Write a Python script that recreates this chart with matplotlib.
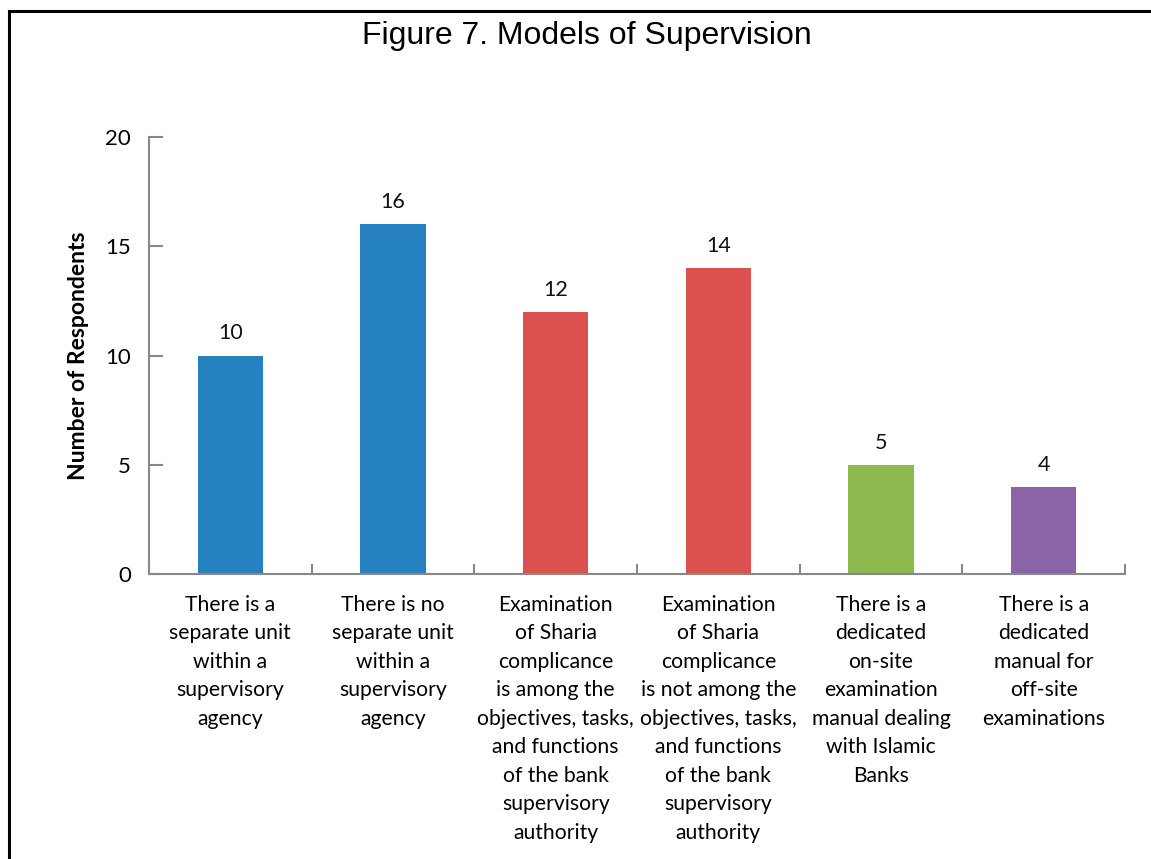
import matplotlib
matplotlib.use("Agg")
import matplotlib.pyplot as plt
from matplotlib.lines import Line2D

categories = [
    "There is a\nseparate unit\nwithin a\nsupervisory\nagency",
    "There is no\nseparate unit\nwithin a\nsupervisory\nagency",
    "Examination\nof Sharia\ncomplicance\nis among the\nobjectives, tasks,\nand functions\nof the bank\nsupervisory\nauthority",
    "Examination\nof Sharia\ncomplicance\nis not among the\nobjectives, tasks,\nand functions\nof the bank\nsupervisory\nauthority",
    "There is a\ndedicated\non-site\nexamination\nmanual dealing\nwith Islamic\nBanks",
    "There is a\ndedicated\nmanual for\noff-site\nexaminations",
]
values = [10, 16, 12, 14, 5, 4]
bar_colors = ["#2581C0", "#2581C0", "#DD5050", "#DD5050", "#8DB94E", "#8A64A6"]
y_ticks = [0, 5, 10, 15, 20]

label_font = ["Lato", "DejaVu Sans"]

fig = plt.figure(figsize=(11.51, 8.59), dpi=100)
ax = fig.add_axes([149 / 1151, 1 - 574 / 859, (1125 - 149) / 1151, (574 - 137) / 859])

x = list(range(len(values)))
ax.bar(x, values, width=0.40, color=bar_colors, zorder=2)
for xi, v in zip(x, values):
    ax.text(xi, v + 0.55, str(v), ha="center", va="bottom", fontsize=15.5,
            family=label_font, color="#111111")

ax.set_xlim(-0.5, len(values) - 0.5)
ax.set_ylim(0, 20)
ax.set_yticks(y_ticks)
ax.set_yticklabels([str(t) for t in y_ticks], fontsize=16, family=label_font)
ax.set_xticks([i + 0.5 for i in range(-1, len(values))], minor=True)
ax.set_xticks(x)
ax.set_xticklabels(categories, fontsize=15.2, family=label_font, va="top",
                   linespacing=1.53)
ax.tick_params(axis="x", which="major", length=0, pad=15)
ax.tick_params(axis="x", which="minor", length=7, width=1.5, color="#888888",
               direction="in")
ax.tick_params(axis="y", length=10, width=1.5, color="#888888", direction="in",
               pad=13)

for side in ("top", "right"):
    ax.spines[side].set_visible(False)
for side in ("left", "bottom"):
    ax.spines[side].set_color("#888888")
    ax.spines[side].set_linewidth(1.5)

ax.set_ylabel("Number of Respondents", fontsize=16.5, fontweight="bold",
              family=label_font, labelpad=12)

fig.text(587 / 1151, 1 - 36 / 859, "Figure 7. Models of Supervision",
         ha="center", va="center", fontsize=23,
         family=["Liberation Sans", "DejaVu Sans"])

# Frame lines along the top and left edges
fig.add_artist(Line2D([9 / 1151, 1], [1 - 11 / 859, 1 - 11 / 859],
                      transform=fig.transFigure, color="black", lw=2.2))
fig.add_artist(Line2D([9 / 1151, 9 / 1151], [0, 1 - 11 / 859],
                      transform=fig.transFigure, color="black", lw=2.2))

fig.savefig("out.png", dpi=100)
